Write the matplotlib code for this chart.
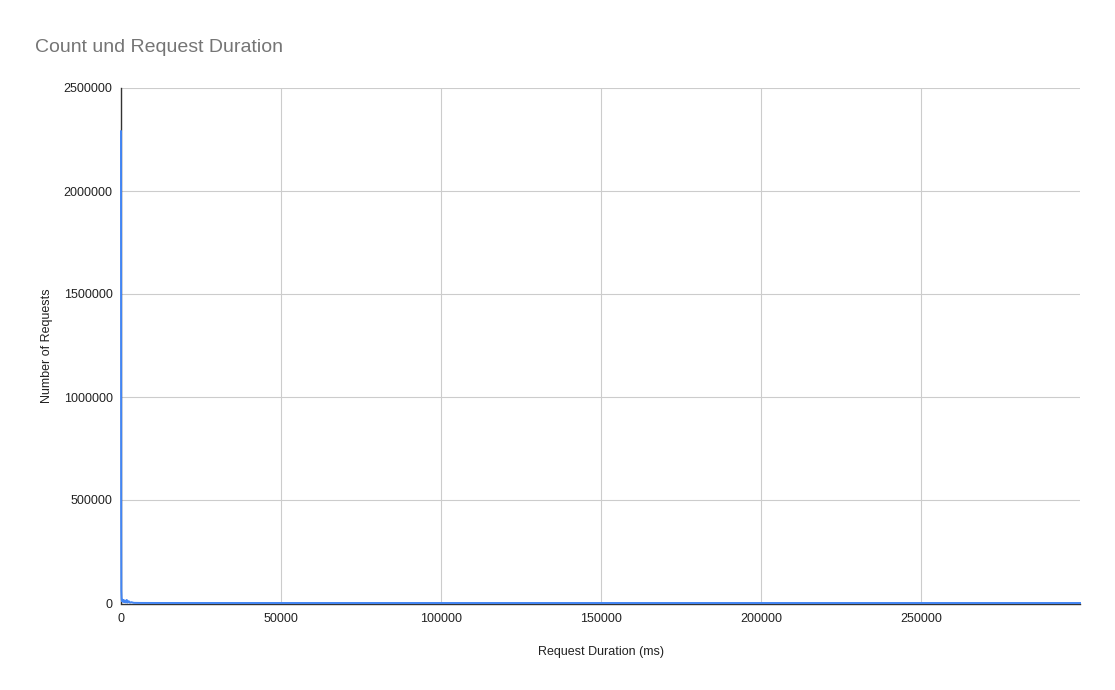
import matplotlib
matplotlib.use("Agg")
import matplotlib.pyplot as plt

plt.rcParams["font.family"] = ["Liberation Sans", "DejaVu Sans"]

# request duration (ms) vs count
durations = [0, 50, 100, 200, 300, 400, 600, 800, 1000, 1200, 1500, 1800, 2000,
             2400, 2800, 3200, 4000, 6000, 10000, 20000, 50000, 100000, 150000,
             200000, 250000, 299700]
counts = [2290000, 420000, 60000, 18000, 9000, 16000, 6000, 14000, 5000, 12000,
          3000, 15000, 2000, 9000, 1500, 4000, 800, 300, 150, 60, 20, 8, 4, 2, 1, 1]

x_ticks = [0, 50000, 100000, 150000, 200000, 250000]
y_ticks = [0, 500000, 1000000, 1500000, 2000000, 2500000]

fig = plt.figure(figsize=(11.15, 6.9), dpi=100)
ax = fig.add_axes([121 / 1115, 87 / 690, (1080 - 121) / 1115, (603 - 88) / 690])

ax.plot(durations, counts, color="#4285F4", lw=1.4, zorder=5, clip_on=False)

ax.set_xlim(0, 299700)
ax.set_ylim(0, 2500000)
ax.set_xticks(x_ticks)
ax.set_yticks(y_ticks)
ax.set_xticklabels([str(t) for t in x_ticks])
ax.set_yticklabels([str(t) for t in y_ticks])
ax.tick_params(length=0, labelsize=9, colors="#222222", pad=6)
ax.grid(True, color="#cccccc", lw=0.8)
ax.set_axisbelow(True)
for s in ["top", "right"]:
    ax.spines[s].set_visible(False)
for s in ["left", "bottom"]:
    ax.spines[s].set_color("#333333")
    ax.spines[s].set_linewidth(1)
    ax.spines[s].set_zorder(2)
ax.spines["bottom"].set_position(("outward", 1))

ax.set_xlabel("Request Duration (ms)", fontsize=9, color="#222222", labelpad=15)
ax.set_ylabel("Number of Requests", fontsize=9, color="#222222", labelpad=8)

fig.text(35 / 1115, 1 - 47 / 690, "Count und Request Duration", fontsize=14,
         color="#757575", va="center", ha="left")

fig.savefig("out.png", dpi=100)
